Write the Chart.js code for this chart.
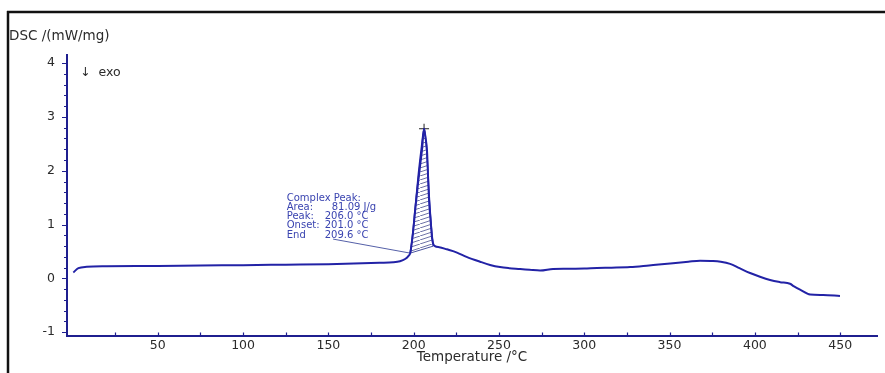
<!DOCTYPE html>
<html>
<head>
<meta charset="utf-8">
<script src="https://cdn.jsdelivr.net/npm/chart.js@4.4.0/dist/chart.umd.min.js"></script>
<style>
    html, body { margin: 0; padding: 0; background: #fff; }
    #dsc { display: block; }
</style>
</head>
<body>
<canvas id="dsc" width="885" height="373"></canvas>
<script>
// DSC curve (temperature in °C, DSC in mW/mg)
const tempC = [0.5, 3.5, 8.4, 20, 50, 75, 100, 125, 150, 170, 180, 188, 192, 195, 197, 198,
    199.6, 201, 202.6, 204, 204.9, 206.1, 207, 207.8, 209, 210, 210.8, 212.5, 215, 219.4,
    225.4, 231, 238.9, 244.8, 250.6, 256, 262.4, 268, 274.1, 281.7, 290, 300, 307.5, 316,
    326.9, 338, 352, 361, 367.9, 375.5, 380, 385.5, 391, 397.2, 403, 408.9, 414.8, 420.6,
    423, 426.5, 432.4, 440, 449.9];
const dsc = [0.11, 0.19, 0.215, 0.225, 0.23, 0.24, 0.245, 0.255, 0.265, 0.28, 0.29, 0.30, 0.32, 0.36, 0.42, 0.47,
    0.85, 1.3, 1.78, 2.15, 2.39, 2.78, 2.6, 2.39, 1.46, 1.05, 0.74, 0.6, 0.58, 0.54,
    0.48, 0.40, 0.31, 0.25, 0.21, 0.19, 0.175, 0.16, 0.145, 0.175, 0.18, 0.185, 0.195, 0.2,
    0.21, 0.24, 0.28, 0.31, 0.33, 0.325, 0.31, 0.27, 0.19, 0.10, 0.03, -0.03, -0.07, -0.10,
    -0.15, -0.21, -0.30, -0.31, -0.325];

// integrated peak (hatched) and its baseline
const peakTemp = [198, 199.2, 201, 202.8, 204.6, 206.1, 207.6, 209, 210.4, 211.5];
const peakDsc = [0.47, 0.75, 1.35, 1.95, 2.45, 2.78, 2.4, 1.6, 0.95, 0.6];
const baseTemp = [198, 211.5];
const baseDsc = [0.47, 0.6];

// leader line from the result box to the peak
const leaderTemp = [152.8, 197.9];
const leaderDsc = [0.73, 0.47];
const peakMark = { x: 206.1, y: 2.78 };

// result box text
const resultTitle = 'Complex Peak:';
const resultLabels = ['Area:', 'Peak:', 'Onset:', 'End'];
const resultValues = ['81.09 J/g', '206.0 °C', '201.0 °C', '209.6 °C'];
const resultAnchor = { x: 125.6, y: 1.49 };

// axis ranges / ticks
const xRange = [-3.2, 471.6];
const yRange = [-1.07, 4.15];
const xTicks = [25, 50, 75, 100, 125, 150, 175, 200, 225, 250, 275, 300, 325, 350, 375, 400, 425, 450];
const xLabelStep = 50;
const yTicks = [-1, -0.8, -0.6, -0.4, -0.2, 0, 0.2, 0.4, 0.6, 0.8, 1, 1.2, 1.4, 1.6, 1.8, 2,
    2.2, 2.4, 2.6, 2.8, 3, 3.2, 3.4, 3.6, 3.8, 4];

const AXIS = '#1f1f8f';
const CURVE = '#2222a6';
const TEXT = '#2b2b2b';
const FONT = "'DejaVu Sans', sans-serif";

const toPts = (xs, ys) => xs.map((x, i) => ({ x: x, y: ys[i] }));
const isWhole = v => Math.abs(v - Math.round(v)) < 1e-6;

function makeHatch() {
    const c = document.createElement('canvas');
    c.width = 12;
    c.height = 4;
    const g = c.getContext('2d');
    g.strokeStyle = '#4a4f92';
    g.lineWidth = 0.8;
    g.beginPath();
    g.moveTo(0, 4);
    g.lineTo(12, 0);
    g.stroke();
    return g.createPattern(c, 'repeat');
}

const dscDecor = {
    id: 'dscDecor',
    beforeDraw(chart) {
        const ctx = chart.ctx;
        ctx.save();
        ctx.fillStyle = '#fff';
        ctx.fillRect(0, 0, chart.width, chart.height);
        ctx.restore();
    },
    afterDraw(chart) {
        const ctx = chart.ctx;
        const xs = chart.scales.x;
        const ys = chart.scales.y;
        const area = chart.chartArea;

        ctx.save();
        // y ticks point out, x ticks point in
        ctx.strokeStyle = AXIS;
        ctx.lineWidth = 1.2;
        ctx.beginPath();
        yTicks.forEach(v => {
            const py = Math.round(ys.getPixelForValue(v)) + 0.5;
            const len = isWhole(v) ? 5 : 3;
            ctx.moveTo(area.left - len, py);
            ctx.lineTo(area.left, py);
        });
        xTicks.forEach(v => {
            const px = Math.round(xs.getPixelForValue(v)) + 0.5;
            ctx.moveTo(px, area.bottom);
            ctx.lineTo(px, area.bottom - 3.5);
        });
        ctx.stroke();

        // y axis title and exo marker
        ctx.fillStyle = TEXT;
        ctx.textBaseline = 'middle';
        ctx.textAlign = 'left';
        ctx.font = '13.5px ' + FONT;
        ctx.fillText('DSC /(mW/mg)', 9, 36);
        ctx.font = '12.5px ' + FONT;
        ctx.fillText('\u2193  exo', 80, 73);

        // result box
        const ax = xs.getPixelForValue(resultAnchor.x);
        const ay = ys.getPixelForValue(resultAnchor.y);
        ctx.fillStyle = '#3a44b0';
        ctx.font = '10px ' + FONT;
        ctx.fillText(resultTitle, ax, ay);
        resultLabels.forEach((lab, i) => {
            const ly = ay + 9.2 * (i + 1);
            ctx.fillText(lab, ax, ly);
            ctx.fillText(resultValues[i], ax + (i === 0 ? 45 : 38), ly);
        });

        // outer frame
        ctx.strokeStyle = '#111';
        ctx.lineWidth = 2.5;
        ctx.beginPath();
        ctx.moveTo(7, 12);
        ctx.lineTo(chart.width, 12);
        ctx.moveTo(8, 11);
        ctx.lineTo(8, chart.height);
        ctx.stroke();
        ctx.restore();
    }
};

const ctx = document.getElementById('dsc').getContext('2d');
const chart = new Chart(ctx, {
    type: 'line',
    data: {
        datasets: [
            {
                label: 'DSC',
                data: toPts(tempC, dsc),
                borderColor: CURVE,
                borderWidth: 2,
                pointRadius: 0,
                cubicInterpolationMode: 'monotone',
                fill: false
            },
            {
                label: 'Peak',
                data: toPts(peakTemp, peakDsc),
                borderColor: CURVE,
                borderWidth: 1.5,
                pointRadius: 0,
                cubicInterpolationMode: 'monotone',
                backgroundColor: makeHatch(),
                fill: '+1'
            },
            {
                label: 'Baseline',
                data: toPts(baseTemp, baseDsc),
                borderColor: '#4b55a0',
                borderWidth: 1,
                pointRadius: 0,
                fill: false
            },
            {
                label: 'Leader',
                data: toPts(leaderTemp, leaderDsc),
                borderColor: '#5560a8',
                borderWidth: 1,
                pointRadius: 0,
                fill: false
            },
            {
                label: 'Peak mark',
                data: [peakMark],
                showLine: false,
                pointStyle: 'cross',
                pointRadius: 5,
                borderColor: '#222',
                borderWidth: 1
            }
        ]
    },
    options: {
        responsive: false,
        animation: false,
        devicePixelRatio: 1,
        layout: { padding: { left: 0, top: 55, right: 8, bottom: 0 } },
        plugins: {
            legend: { display: false },
            tooltip: { enabled: false }
        },
        scales: {
            x: {
                type: 'linear',
                min: xRange[0],
                max: xRange[1],
                afterFit: s => { s.height = 37; },
                afterBuildTicks: s => { s.ticks = xTicks.map(v => ({ value: v })); },
                ticks: {
                    autoSkip: false,
                    maxRotation: 0,
                    padding: 2,
                    color: TEXT,
                    font: { family: FONT, size: 12.5 },
                    callback: v => (isWhole(v / xLabelStep) ? Math.round(v) : '')
                },
                grid: { display: false, drawTicks: false },
                border: { color: AXIS, width: 2 },
                title: {
                    display: true,
                    text: 'Temperature /°C',
                    color: TEXT,
                    font: { family: FONT, size: 13.5 },
                    padding: { top: 0, bottom: 7 }
                }
            },
            y: {
                min: yRange[0],
                max: yRange[1],
                afterFit: s => { s.width = 67; },
                afterBuildTicks: s => { s.ticks = yTicks.map(v => ({ value: v })); },
                ticks: {
                    autoSkip: false,
                    padding: 12,
                    color: TEXT,
                    font: { family: FONT, size: 12.5 },
                    callback: v => (isWhole(v) ? Math.round(v) : '')
                },
                grid: { display: false, drawTicks: false },
                border: { color: AXIS, width: 2 }
            }
        }
    },
    plugins: [dscDecor]
});
</script>
</body>
</html>
